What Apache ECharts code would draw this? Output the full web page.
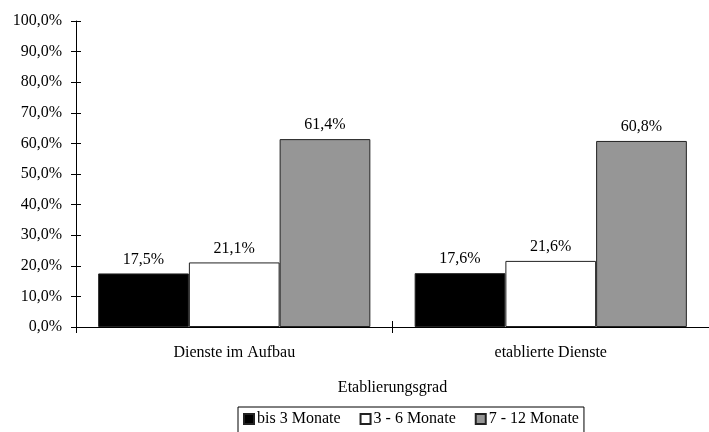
<!DOCTYPE html>
<html><head><meta charset="utf-8">
<script src="https://cdn.jsdelivr.net/npm/echarts@6/dist/echarts.min.js"></script>
<style>html,body{margin:0;padding:0;background:#fff}#c{width:709px;height:432px}</style>
</head><body><div id="c"></div>
<script>
var categories = ['Dienste im Aufbau', 'etablierte Dienste'];
var seriesNames = ['bis 3 Monate', '3 - 6 Monate', '7 - 12 Monate'];
var bis3 = [17.5, 17.6];
var m3bis6 = [21.1, 21.6];
var m7bis12 = [61.4, 60.8];
var seriesColors = ['#000000', '#ffffff', '#969696'];
var yMin = 0, yMax = 100, yStep = 10;
var axisTitle = 'Etablierungsgrad';

var FONT = 'Liberation Serif';
function pct(v){ return v.toFixed(1).replace('.', ',') + '%'; }
var values = [bis3, m3bis6, m7bis12];
var chart = echarts.init(document.getElementById('c'));
var series = values.map(function(arr, i){
  return {
    name: seriesNames[i], type: 'bar', data: arr, xAxisIndex: 0, yAxisIndex: 0,
    barGap: '0%', barCategoryGap: '14%',
    itemStyle: { color: seriesColors[i], borderColor: '#222', borderWidth: 1 },
    label: { show: true, position: 'top', distance: 6, formatter: function(p){ return pct(p.value); },
      fontFamily: FONT, fontSize: 16, color: '#000' }
  };
});
var gridBox = { left: 76, right: -5, top: 21, bottom: 105 };
chart.setOption({
  animation: false,
  textStyle: { fontFamily: FONT },
  grid: [gridBox, Object.assign({}, gridBox)],
  legend: {
    data: seriesNames, left: 238, top: 407, icon: 'rect', itemWidth: 10, itemHeight: 10,
    itemGap: 19, borderColor: '#000', borderWidth: 1, padding: [4, 5, 6, 5],
    textStyle: { fontFamily: FONT, fontSize: 16, color: '#000', padding: [0, 0, 0, -2] }
  },
  xAxis: [{
    type: 'category', data: categories, gridIndex: 0,
    axisLine: { lineStyle: { color: '#000' } },
    axisTick: { show: true, length: 6, lineStyle: { color: '#000' } },
    axisLabel: { fontFamily: FONT, fontSize: 16, color: '#000', margin: 18 },
    name: axisTitle, nameLocation: 'middle', nameGap: 53,
    nameTextStyle: { fontFamily: FONT, fontSize: 16, color: '#000' }
  }, {
    type: 'category', data: categories, gridIndex: 1, position: 'bottom',
    axisLine: { show: false },
    axisTick: { show: true, inside: true, length: 6, lineStyle: { color: '#000' } },
    axisLabel: { show: false }
  }],
  yAxis: [{
    type: 'value', min: yMin, max: yMax, interval: yStep, gridIndex: 0,
    axisLine: { show: true, lineStyle: { color: '#000' } },
    axisTick: { show: true, length: 5, lineStyle: { color: '#000' } },
    splitLine: { show: false },
    axisLabel: { formatter: function(v){ return pct(v); }, fontFamily: FONT, fontSize: 16, color: '#000', margin: 14 }
  }, {
    type: 'value', min: yMin, max: yMax, interval: yStep, gridIndex: 1, position: 'left',
    axisLine: { show: false },
    axisTick: { show: true, inside: true, length: 5, lineStyle: { color: '#000' } },
    splitLine: { show: false }, axisLabel: { show: false }
  }],
  series: series
});
</script></body></html>
